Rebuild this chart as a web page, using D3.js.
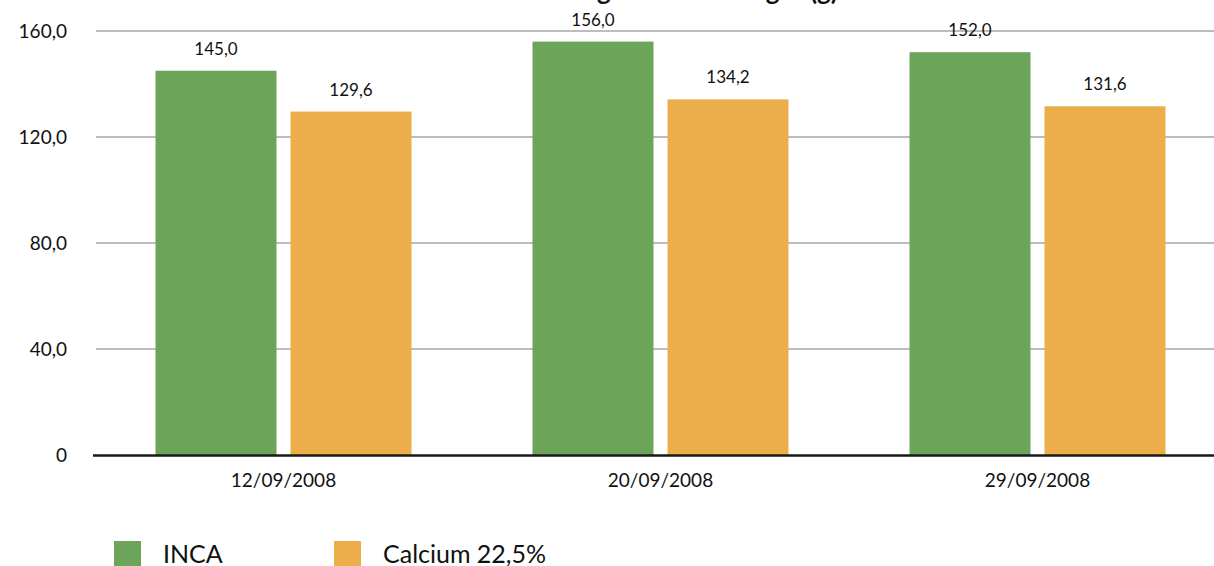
<!DOCTYPE html>
<html>
<head>
<meta charset="utf-8">
<script src="https://cdn.jsdelivr.net/npm/d3@7"></script>
<style>
  body { margin: 0; background: #fff; }
  text { font-family: Lato, "Open Sans", sans-serif; fill: #111; }
</style>
</head>
<body>
<script>
// chart data
var dates = ["12/09/2008", "20/09/2008", "29/09/2008"];
var seriesNames = ["INCA", "Calcium 22,5%"];
var inca = [145.0, 156.0, 152.0];
var calcium = [129.6, 134.2, 131.6];
var yTicks = [0, 40, 80, 120, 160];
var colors = ["#6ca55a", "#ecae4b"];
var title = "Average chicken weight (g)";

var width = 1214, height = 566;

var svg = d3.select("body").append("svg")
    .attr("width", width)
    .attr("height", height);

// scales
var y = d3.scaleLinear().domain([0, 160]).range([455, 31]);
var x0 = d3.scaleBand().domain(dates).range([95, 1226]);
var x1 = d3.scaleBand().domain(seriesNames)
    .range([60.5, x0.bandwidth() - 60.5])
    .paddingInner(0.1037);
var fmt = function(v) { return v === 0 ? "0" : d3.format(".1f")(v).replace(".", ","); };

// title, cut off at the top edge like in the original
svg.append("text")
  .attr("x", 838)
  .attr("y", 0)
  .attr("text-anchor", "end")
  .style("font-size", "26px")
  .style("font-weight", "bold")
  .text(title);

// gridlines
svg.append("g").selectAll("line")
  .data(yTicks.slice(1))
  .enter().append("line")
  .attr("x1", 96).attr("x2", width)
  .attr("y1", function(d) { return y(d); })
  .attr("y2", function(d) { return y(d); })
  .attr("stroke", "#bdbdbd")
  .attr("stroke-width", 2);

// y axis labels
var yAxis = svg.append("g")
  .attr("transform", "translate(67,0)")
  .call(d3.axisLeft(y).tickValues(yTicks).tickSize(0).tickPadding(0).tickFormat(fmt));
yAxis.select(".domain").remove();
yAxis.selectAll("text")
  .style("font-size", "19px")
  .attr("dy", "0.35em");

// bars
var rows = dates.map(function(d, i) {
  return { date: d, values: [inca[i], calcium[i]] };
});

var groups = svg.append("g").selectAll("g")
  .data(rows)
  .enter().append("g")
  .attr("transform", function(d) { return "translate(" + x0(d.date) + ",0)"; });

groups.selectAll("rect")
  .data(function(d) { return d.values.map(function(v, j) { return { s: seriesNames[j], v: v, j: j }; }); })
  .enter().append("rect")
  .attr("x", function(d) { return x1(d.s); })
  .attr("y", function(d) { return y(d.v); })
  .attr("width", x1.bandwidth())
  .attr("height", function(d) { return y(0) - y(d.v); })
  .attr("fill", function(d) { return colors[d.j]; });

groups.selectAll("text")
  .data(function(d) { return d.values.map(function(v, j) { return { s: seriesNames[j], v: v }; }); })
  .enter().append("text")
  .attr("x", function(d) { return x1(d.s) + x1.bandwidth() / 2; })
  .attr("y", function(d) { return y(d.v) - 16; })
  .attr("text-anchor", "middle")
  .style("font-size", "17px")
  .text(function(d) { return fmt(d.v); });

// x axis
var xAxis = svg.append("g")
  .attr("transform", "translate(0,455)")
  .call(d3.axisBottom(x0).tickSize(0).tickPadding(0));
xAxis.select(".domain").remove();
xAxis.selectAll("text")
  .attr("y", 32)
  .attr("dy", 0)
  .style("font-size", "19px");

svg.append("line")
  .attr("x1", 93).attr("x2", width)
  .attr("y1", 455.5).attr("y2", 455.5)
  .attr("stroke", "#1a1a1a")
  .attr("stroke-width", 2.5);

// legend
var legendX = [114, 334];
var legend = svg.append("g").selectAll("g")
  .data(seriesNames)
  .enter().append("g")
  .attr("transform", function(d, i) { return "translate(" + legendX[i] + ",541)"; });

legend.append("rect")
  .attr("width", 27)
  .attr("height", 27)
  .attr("fill", function(d, i) { return colors[i]; });

legend.append("text")
  .attr("x", 49)
  .attr("y", 22)
  .style("font-size", "25px")
  .text(function(d) { return d; });
</script>
</body>
</html>
